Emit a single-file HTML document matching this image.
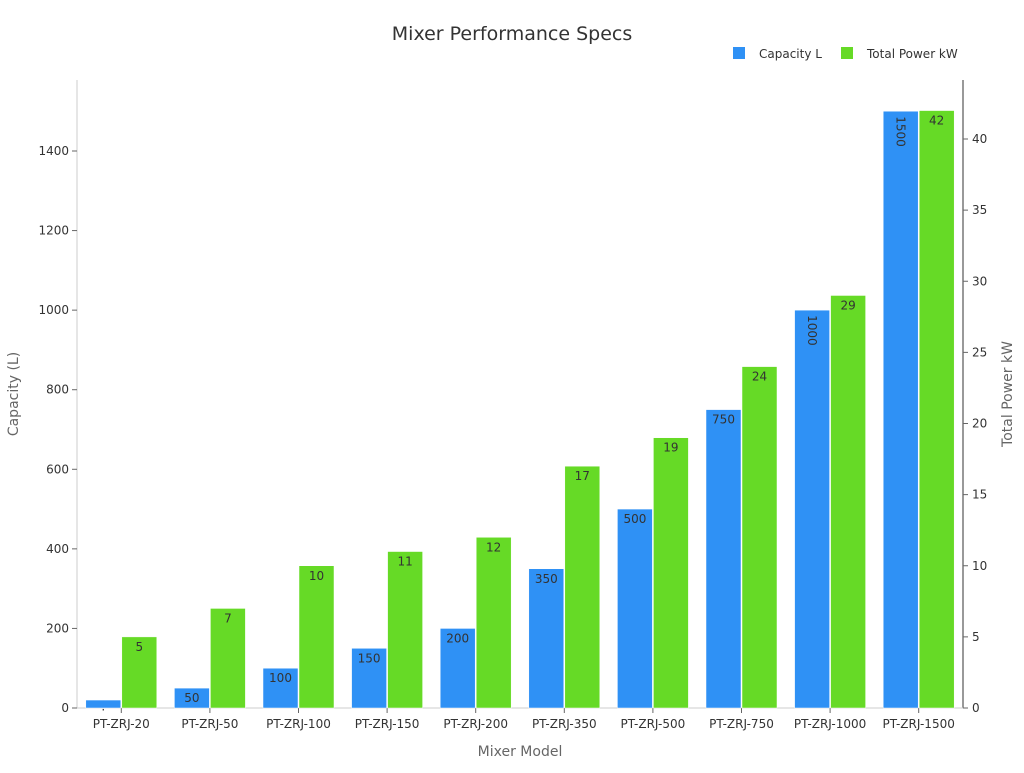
<!DOCTYPE html>
<html><head><meta charset="utf-8"><style>
body{margin:0;background:#fff;font-family:"Liberation Sans","DejaVu Sans",sans-serif}
svg text{font-family:"DejaVu Sans","Liberation Sans",sans-serif}
</style></head><body>
<svg id="c" width="1024" height="768" xmlns="http://www.w3.org/2000/svg">
<text x="512" y="40" text-anchor="middle" font-size="19" fill="#333">Mixer Performance Specs</text>
<g>
<rect x="733" y="47" width="12" height="12" fill="#2f91f5"/>
<text x="759" y="58" font-size="12" fill="#333">Capacity L</text>
<rect x="841" y="47" width="12" height="12" fill="#66da26"/>
<text x="867" y="58" font-size="12" fill="#333">Total Power kW</text>
</g>
<g id="plot"></g>
<text x="520" y="756" text-anchor="middle" font-size="14" fill="#666">Mixer Model</text>
<text transform="translate(18,394) rotate(-90)" text-anchor="middle" font-size="14" fill="#666">Capacity (L)</text>
<text transform="translate(1012,394) rotate(-90)" text-anchor="middle" font-size="14" fill="#666">Total Power kW</text>
</svg>
<script>
const categories=["PT-ZRJ-20","PT-ZRJ-50","PT-ZRJ-100","PT-ZRJ-150","PT-ZRJ-200","PT-ZRJ-350","PT-ZRJ-500","PT-ZRJ-750","PT-ZRJ-1000","PT-ZRJ-1500"];
const capacity=[20,50,100,150,200,350,500,750,1000,1500];
const power=[5,7,10,11,12,17,19,24,29,42];
const leftTicks=[0,200,400,600,800,1000,1200,1400];
const rightTicks=[0,5,10,15,20,25,30,35,40];
const NS="http://www.w3.org/2000/svg";
const g=document.getElementById('plot');
const X0=77,X1=963,Y0=708,YT=80;
const yL=v=>Y0-v*(Y0-151)/1400;
const yR=v=>Y0-v*(Y0-139)/40;
const bw=(X1-X0)/categories.length;
function mk(t,a,p){const e=document.createElementNS(NS,t);for(const k in a)e.setAttribute(k,a[k]);(p||g).appendChild(e);return e;}
let e;
e=mk('line',{x1:X0,y1:YT,x2:X0,y2:Y0,stroke:'#ccc'});


e=mk('line',{x1:X1,y1:YT,x2:X1,y2:Y0,stroke:'#333'});


e=mk('line',{x1:X0,y1:Y0,x2:X1,y2:Y0,stroke:'#ccc'});


leftTicks.forEach(v=>{
 e=mk('line',{x1:X0-5,x2:X0,y1:yL(v),y2:yL(v),stroke:'#666'});
 
 
 e=mk('text',{x:X0-8,y:yL(v)+4,'text-anchor':'end','font-size':12,fill:'#333'});e.textContent=v;
 
 
});
rightTicks.forEach(v=>{
 e=mk('line',{x1:X1,x2:X1+5,y1:yR(v),y2:yR(v),stroke:'#666'});
 
 
 e=mk('text',{x:X1+9,y:yR(v)+4,'font-size':12,fill:'#333'});e.textContent=v;
 
 
});
categories.forEach((c,i)=>{
 const cx=X0+bw*(i+0.5);
 e=mk('line',{x1:cx,x2:cx,y1:Y0,y2:Y0+5,stroke:'#666'});
 
 
 e=mk('text',{x:cx,y:Y0+20,'text-anchor':'middle','font-size':12,fill:'#333'});e.textContent=c;
 
 
 const w=35;
 const yb=yL(capacity[i]);
 e=mk('rect',{x:cx-w-0.5,y:yb,width:w,height:Y0-yb,fill:'#2f91f5',stroke:'#fff','stroke-width':0.5});
 
 
 const yg=yR(power[i]);
 e=mk('rect',{x:cx+0.5,y:yg,width:w,height:Y0-yg,fill:'#66da26',stroke:'#fff','stroke-width':0.5});
 
 
 const bx=cx-w/2-0.5;
 if(capacity[i]>=1000){
  e=mk('text',{transform:`translate(${bx-4},${yb+5}) rotate(90)`,'font-size':12,fill:'#333'});
 }else{
  e=mk('text',{x:bx,y:yb+14,'text-anchor':'middle','font-size':12,fill:'#333'});
 }
 e.textContent=capacity[i]>=50?capacity[i]:'·';
 
 
 e=mk('text',{x:cx+w/2+0.5,y:yg+14,'text-anchor':'middle','font-size':12,fill:'#333'});e.textContent=power[i];
 
 
});
</script>
</body></html>
